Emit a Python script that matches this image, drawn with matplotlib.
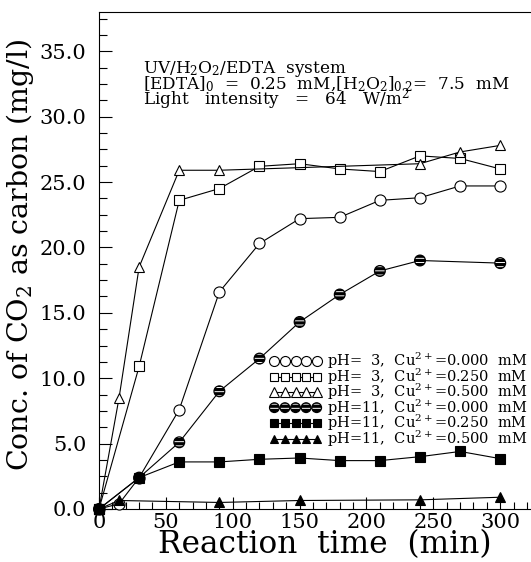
import matplotlib
matplotlib.use('Agg')
import matplotlib.pyplot as plt
from matplotlib.ticker import MultipleLocator, FormatStrFormatter
from matplotlib.legend_handler import HandlerTuple

plt.rcParams['font.family'] = ['DejaVu Serif']
plt.rcParams['mathtext.fontset'] = 'dejavuserif'
plt.rcParams['hatch.linewidth'] = 2.3

# ---- data (reaction time in min, CO2 as carbon in mg/l) ----
ph3_cu000_t = [0, 15, 30, 60, 90, 120, 150, 180, 210, 240, 270, 300]
ph3_cu000_y = [0, 0.4, 2.4, 7.6, 16.6, 20.3, 22.2, 22.3, 23.6, 23.8, 24.7, 24.7]

ph3_cu025_t = [0, 30, 60, 90, 120, 150, 180, 210, 240, 270, 300]
ph3_cu025_y = [0, 10.9, 23.6, 24.5, 26.2, 26.4, 26.0, 25.8, 27.0, 26.8, 26.0]

ph3_cu050_t = [0, 15, 30, 60, 90, 240, 270, 300]
ph3_cu050_y = [0, 8.5, 18.5, 25.9, 25.9, 26.4, 27.3, 27.8]

ph11_cu000_t = [0, 30, 60, 90, 120, 150, 180, 210, 240, 300]
ph11_cu000_y = [0, 2.4, 5.1, 9.0, 11.5, 14.3, 16.4, 18.2, 19.0, 18.8]

ph11_cu025_t = [0, 30, 60, 90, 120, 150, 180, 210, 240, 270, 300]
ph11_cu025_y = [0, 2.4, 3.6, 3.6, 3.8, 3.9, 3.7, 3.7, 4.0, 4.4, 3.85]

ph11_cu050_t = [0, 15, 90, 150, 240, 300]
ph11_cu050_y = [0, 0.65, 0.5, 0.65, 0.7, 0.9]

labels = [
    r'pH=  3,  Cu$^{2+}$=0.000  mM',
    r'pH=  3,  Cu$^{2+}$=0.250  mM',
    r'pH=  3,  Cu$^{2+}$=0.500  mM',
    r'pH=11,  Cu$^{2+}$=0.000  mM',
    r'pH=11,  Cu$^{2+}$=0.250  mM',
    r'pH=11,  Cu$^{2+}$=0.500  mM',
]

fig = plt.figure(figsize=(5.31, 5.62), dpi=100)
ax = fig.add_axes([99 / 531, 53 / 562, 432 / 531, 497 / 562])

lw = 0.8
common = dict(color='black', lw=lw, clip_on=False, markeredgecolor='black', markeredgewidth=0.8)

h1, = ax.plot(ph3_cu000_t, ph3_cu000_y, marker='o', ms=8, markerfacecolor='white', zorder=3, **common)
h2, = ax.plot(ph3_cu025_t, ph3_cu025_y, marker='s', ms=6.5, markerfacecolor='white', zorder=3, **common)
h3, = ax.plot(ph3_cu050_t, ph3_cu050_y, marker='^', ms=7.5, markerfacecolor='white', zorder=3, **common)
h4l, = ax.plot(ph11_cu000_t, ph11_cu000_y, zorder=3, **common)
h4s = ax.scatter(ph11_cu000_t, ph11_cu000_y, s=60, marker='o', facecolors='white',
                 edgecolors='black', hatch='----', linewidths=0.9, zorder=4, clip_on=False)
h5, = ax.plot(ph11_cu025_t, ph11_cu025_y, marker='s', ms=6.5, markerfacecolor='black', zorder=5, **common)
h6, = ax.plot(ph11_cu050_t, ph11_cu050_y, marker='^', ms=7, markerfacecolor='black', zorder=5, **common)

ax.set_xlim(0, 323)
ax.set_ylim(0, 38)

ax.spines['right'].set_visible(False)
for s in ['left', 'bottom', 'top']:
    ax.spines[s].set_linewidth(0.8)

ax.xaxis.set_major_locator(MultipleLocator(50))
ax.xaxis.set_minor_locator(MultipleLocator(10))
ax.yaxis.set_major_locator(MultipleLocator(5))
ax.yaxis.set_minor_locator(MultipleLocator(1.25))
ax.yaxis.set_major_formatter(FormatStrFormatter('%.1f'))
ax.xaxis.set_major_formatter(FormatStrFormatter('%d'))

ax.tick_params(axis='both', which='both', direction='in', top=False, right=False, width=0.8)
ax.tick_params(axis='y', which='major', length=9, pad=9, labelsize=15)
ax.tick_params(axis='y', which='minor', length=6)
ax.tick_params(axis='x', which='major', length=9, pad=3, labelsize=15)
ax.tick_params(axis='x', which='minor', length=5)

ax.set_xlabel('Reaction  time  (min)', fontsize=21)
ax.xaxis.set_label_coords(0.522, -0.040)
ax.set_ylabel(r'Conc. of CO$_2$ as carbon (mg/l)', fontsize=19)
ax.yaxis.set_label_coords(-0.146, 0.511)

tx = (143 - 99) / 432
def ty(py):
    return (509 - py) / 497
fs_note = 12.2
ax.text(tx, ty(73), r'UV/H$_2$O$_2$/EDTA  system', transform=ax.transAxes, fontsize=fs_note, va='baseline')
ax.text(tx, ty(89), r'[EDTA]$_0$  =  0.25  mM,[H$_2$O$_2$]$_{0\ 2}$=  7.5  mM', transform=ax.transAxes,
        fontsize=fs_note, va='baseline')
ax.text(tx, ty(104), r'Light   intensity   =   64   W/m$^2$', transform=ax.transAxes, fontsize=fs_note,
        va='baseline')

leg = ax.legend([h1, h2, h3, (h4l, h4s), h5, h6], labels,
                handler_map={tuple: HandlerTuple(ndivide=1)},
                loc='upper left', bbox_to_anchor=((270 - 99) / 432, (509 - 351) / 497),
                frameon=False, fontsize=10.5, numpoints=5, scatterpoints=5, scatteryoffsets=[0.5],
                markerscale=0.9, handlelength=3.5, handletextpad=0.4, labelspacing=-0.33,
                borderpad=0, borderaxespad=0)

# fit axis-title sizes to the reference extents
fig.canvas.draw()
r = fig.canvas.get_renderer()
bb = ax.xaxis.label.get_window_extent(r)
ax.xaxis.label.set_fontsize(21 * 333 / bb.width)
bb = ax.yaxis.label.get_window_extent(r)
ax.yaxis.label.set_fontsize(19 * 432 / bb.height)

fig.savefig('out.png', dpi=100)
